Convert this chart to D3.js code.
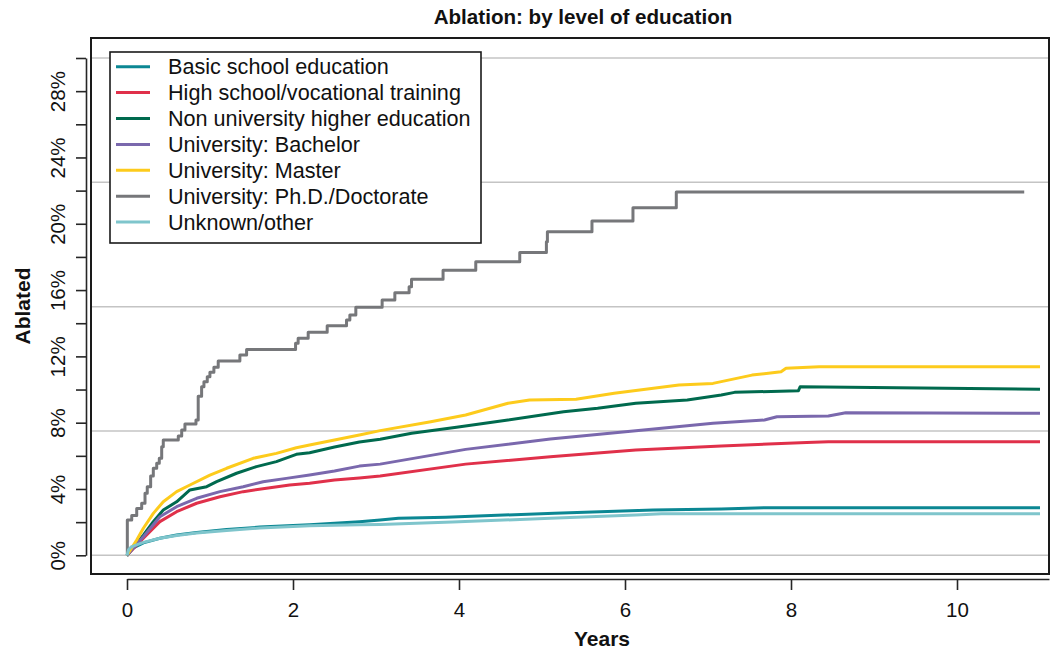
<!DOCTYPE html>
<html>
<head>
<meta charset="utf-8">
<script src="https://cdn.jsdelivr.net/npm/d3@7"></script>
<style>
  html, body { margin: 0; padding: 0; background: #fff; }
  svg { display: block; font-family: "Liberation Sans", Arial, Helvetica, sans-serif; }
</style>
</head>
<body>
<svg id="chart" width="1052" height="659"></svg>
<script>
// Cumulative ablation by level of education: [years, percent ablated]
const categories = [
  "Basic school education",
  "High school/vocational training",
  "Non university higher education",
  "University: Bachelor",
  "University: Master",
  "University: Ph.D./Doctorate",
  "Unknown/other"
];

const basicSchool = [[0,0],[0.036,0.42],[0.1,0.5],[0.197,0.75],[0.396,1.03],[0.598,1.22],[0.839,1.38],[1.2,1.55],[1.6,1.7],[2.2,1.85],[2.5,1.93],[2.8,2.03],[3.05,2.13],[3.27,2.23],[3.84,2.29],[4.54,2.43],[5.15,2.53],[6.34,2.73],[7.16,2.79],[7.7,2.87],[11,2.87]];
const highSchool = [[0,0],[0.197,1.03],[0.396,2.03],[0.598,2.63],[0.839,3.14],[1.12,3.53],[1.4,3.84],[1.68,4.04],[1.96,4.24],[2.2,4.34],[2.5,4.54],[2.8,4.66],[3.05,4.78],[4.08,5.5],[5.1,5.95],[6.13,6.35],[7.16,6.59],[8.19,6.81],[8.45,6.85],[11,6.85]];
const nonUniversity = [[0,0],[0.197,1.22],[0.317,2.03],[0.437,2.73],[0.598,3.23],[0.758,3.94],[0.96,4.14],[1.08,4.44],[1.32,4.95],[1.56,5.35],[1.8,5.65],[2.04,6.09],[2.2,6.19],[2.5,6.53],[2.8,6.83],[3.05,7.0],[3.43,7.36],[3.97,7.72],[4.59,8.16],[5.26,8.66],[5.67,8.87],[6.13,9.17],[6.75,9.37],[7.16,9.67],[7.32,9.83],[8.09,9.93],[8.11,10.17],[11,10.01]];
const bachelor = [[0,0],[0.197,1.12],[0.396,2.33],[0.598,2.93],[0.839,3.44],[1.12,3.84],[1.4,4.14],[1.64,4.44],[1.92,4.64],[2.2,4.84],[2.5,5.08],[2.8,5.38],[3.05,5.5],[4.08,6.39],[5.1,7.01],[6.13,7.52],[7.06,7.96],[7.68,8.16],[7.83,8.36],[8.45,8.4],[8.66,8.6],[11,8.57]];
const master = [[0,0],[0.117,0.92],[0.197,1.63],[0.317,2.53],[0.437,3.23],[0.598,3.84],[0.758,4.24],[0.999,4.84],[1.2,5.25],[1.52,5.85],[1.8,6.15],[2.04,6.49],[2.2,6.65],[2.5,6.95],[2.8,7.26],[3.05,7.52],[3.66,8.06],[4.08,8.46],[4.59,9.17],[4.85,9.37],[5.41,9.41],[5.87,9.77],[6.65,10.27],[7.06,10.37],[7.53,10.87],[7.88,11.07],[7.94,11.28],[8.34,11.37],[11,11.37]];
const doctorate = [[0,0],[0.004,2.13],[0.057,2.4],[0.117,2.83],[0.177,3.14],[0.217,3.74],[0.244,4.14],[0.285,4.78],[0.317,5.25],[0.358,5.55],[0.389,5.85],[0.418,6.55],[0.437,6.95],[0.618,7.2],[0.659,7.56],[0.698,7.92],[0.831,8.16],[0.858,9.6],[0.899,10.17],[0.927,10.47],[0.967,10.77],[0.999,11.04],[1.047,11.35],[1.099,11.72],[1.36,12.08],[1.441,12.42],[2.031,12.79],[2.062,13.09],[2.183,13.45],[2.412,13.85],[2.645,14.2],[2.685,14.49],[2.757,14.96],[3.074,15.4],[3.227,15.84],[3.399,16.2],[3.428,16.66],[3.808,17.2],[4.202,17.71],[4.732,18.27],[5.053,18.91],[5.065,19.52],[5.602,20.16],[6.096,20.96],[6.618,21.91],[10.81,21.91]];
const unknownOther = [[0,0],[0.02,0.35],[0.05,0.5],[0.1,0.6],[0.197,0.78],[0.396,1.03],[0.598,1.2],[0.839,1.35],[1.2,1.5],[1.6,1.65],[2.2,1.78],[2.5,1.81],[2.8,1.84],[3.05,1.86],[3.92,2.01],[5.1,2.23],[6.13,2.43],[6.44,2.5],[11,2.5]];

const seriesValues = [basicSchool, highSchool, nonUniversity, bachelor, master, doctorate, unknownOther];
const palette = ["#0b8793", "#e0304a", "#006a4e", "#7a68ad", "#fdcb1c", "#76777a", "#7fc5cc"];

const xTicks = [0, 2, 4, 6, 8, 10];
const yTicks = [0, 2, 4, 6, 8, 10, 12, 14, 16, 18, 20, 22, 24, 26, 28, 30];
const yGrid = [0, 7.5, 15, 22.5, 30];

const svg = d3.select("#chart");

const x = d3.scaleLinear().domain([0, 10]).range([127, 957]);
const y = d3.scaleLinear().domain([0, 30]).range([555.3, 58]);
const xAxisScale = x.copy().domain([0, x.invert(1049)]).range([127, 1049]);

const box = { left: 91, right: 1049, top: 38, bottom: 574 };

// horizontal reference lines
svg.append("g").selectAll("line").data(yGrid).join("line")
  .attr("x1", box.left).attr("x2", box.right)
  .attr("y1", d => y(d)).attr("y2", d => y(d))
  .attr("stroke", "#c4c4c4").attr("stroke-width", 1.5);

// curves
const line = d3.line().x(d => x(d[0])).y(d => y(d[1]));
const stepLine = d3.line().x(d => x(d[0])).y(d => y(d[1])).curve(d3.curveStepAfter);

svg.append("g").selectAll("path").data(seriesValues).join("path")
  .attr("d", (d, i) => (i === 5 ? stepLine : line)(d))
  .attr("fill", "none")
  .attr("stroke", (d, i) => palette[i])
  .attr("stroke-width", 3)
  .attr("stroke-linejoin", "round");

// plot frame
svg.append("rect")
  .attr("x", box.left).attr("y", box.top)
  .attr("width", box.right - box.left).attr("height", box.bottom - box.top)
  .attr("fill", "none").attr("stroke", "#1a1a1a").attr("stroke-width", 2);

// y axis
const yAxis = svg.append("g")
  .attr("transform", "translate(86,0)")
  .call(d3.axisLeft(y).tickValues(yTicks).tickSize(10).tickSizeOuter(0)
    .tickFormat(d => d % 4 === 0 ? d + "%" : ""));
yAxis.select(".domain").attr("stroke", "#262626").attr("stroke-width", 1.6);
yAxis.selectAll(".tick line").attr("stroke", "#262626").attr("stroke-width", 1.6);
yAxis.selectAll(".tick text")
  .attr("transform", "rotate(-90)")
  .attr("x", 0).attr("y", -21).attr("dy", 0)
  .attr("text-anchor", "middle")
  .attr("font-size", 20.5).attr("fill", "#111")
  .attr("font-family", "Liberation Sans, Arial, sans-serif");

// x axis
const xAxis = svg.append("g")
  .attr("transform", "translate(0,579)")
  .call(d3.axisBottom(xAxisScale).tickValues(xTicks).tickSize(11).tickSizeOuter(0)
    .tickFormat(d => d));
xAxis.select(".domain").attr("stroke", "#262626").attr("stroke-width", 1.6);
xAxis.selectAll(".tick line").attr("stroke", "#262626").attr("stroke-width", 1.6);
xAxis.selectAll(".tick text")
  .attr("y", 38).attr("dy", 0)
  .attr("font-size", 20.5).attr("fill", "#111")
  .attr("font-family", "Liberation Sans, Arial, sans-serif");

// titles
svg.append("text")
  .attr("x", 583).attr("y", 24)
  .attr("text-anchor", "middle")
  .attr("font-size", 20.6).attr("font-weight", "bold").attr("fill", "#111")
  .text("Ablation: by level of education");

svg.append("text")
  .attr("x", 602).attr("y", 646)
  .attr("text-anchor", "middle")
  .attr("font-size", 21).attr("font-weight", "bold").attr("fill", "#111")
  .text("Years");

svg.append("text")
  .attr("transform", "translate(30,306) rotate(-90)")
  .attr("text-anchor", "middle")
  .attr("font-size", 21).attr("font-weight", "bold").attr("fill", "#111")
  .text("Ablated");

// legend
const legend = svg.append("g");
legend.append("rect")
  .attr("x", 110).attr("y", 52).attr("width", 371).attr("height", 191)
  .attr("fill", "#fff").attr("stroke", "#1a1a1a").attr("stroke-width", 1.6);
const rows = legend.selectAll("g.row").data(categories).join("g")
  .attr("class", "row")
  .attr("transform", (d, i) => `translate(0,${66.7 + i * 25.9})`);
rows.append("line")
  .attr("x1", 116).attr("x2", 150)
  .attr("stroke", (d, i) => palette[i]).attr("stroke-width", 3);
rows.append("text")
  .attr("x", 168).attr("y", 0).attr("dy", "0.35em")
  .attr("font-size", 21.6).attr("fill", "#111")
  .text(d => d);
</script>
</body>
</html>
